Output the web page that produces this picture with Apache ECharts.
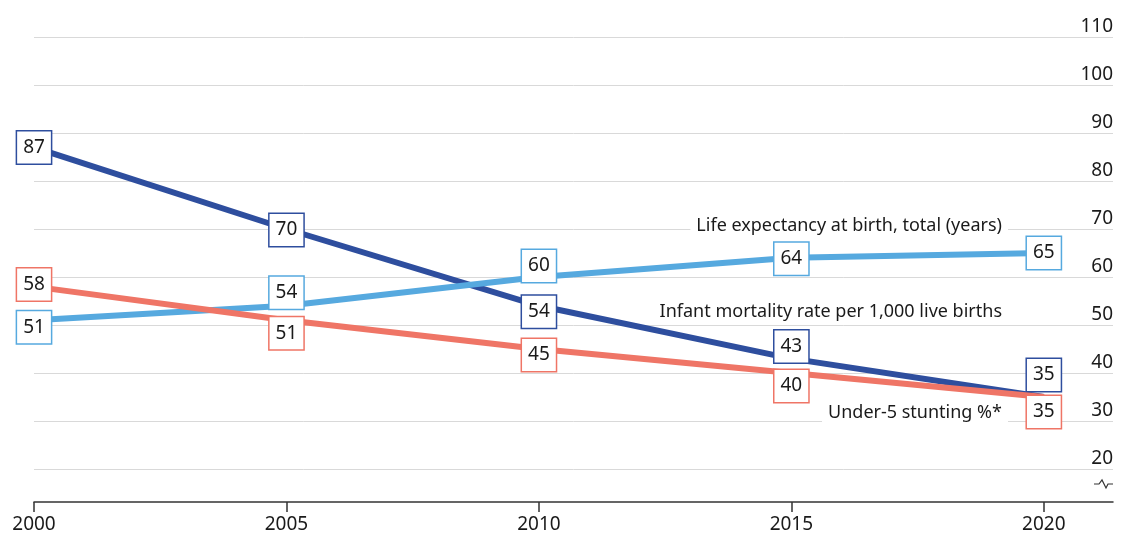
<!DOCTYPE html>
<html>
<head>
<meta charset="utf-8">
<script src="https://cdn.jsdelivr.net/npm/echarts@6/dist/echarts.min.js"></script>
<style>
  html, body { margin: 0; padding: 0; background: #fff; }
  #chart { width: 1131px; height: 535px; }
</style>
</head>
<body>
<div id="chart"></div>
<script>
// data
const years = [2000, 2005, 2010, 2015, 2020];
const infantMortality = [87, 70, 54, 43, 35];
const lifeExpectancy = [51, 54, 60, 64, 65];
const stunting = [58, 51, 45, 40, 35];
const yTicks = [20, 30, 40, 50, 60, 70, 80, 90, 100, 110];

// label nudges so the boxes do not collide (px)
const infantOffsets = [0, 1, 6, -12, -22];
const lifeOffsets = [7, -13, -11, 1, 0];
const stuntOffsets = [-2, 13, 6, 13, 15];

const FONT = '"Noto Sans", "Open Sans", sans-serif';
const INK = "#1a1a1a";
const DARK = "#2E4E9E";
const LIGHT = "#56A9DF";
const SALMON = "#EF7566";

function lineSeries(name, values, offsets, color, z) {
  return {
    name,
    type: "line",
    z,
    data: values.map((v, i) => ({
      value: [years[i], v],
      label: { offset: [0, offsets[i]] },
    })),
    lineStyle: { color, width: 6, cap: "butt" },
    itemStyle: { color: "rgba(0,0,0,0)" },
    symbol: "circle",
    symbolSize: 1,
    emphasis: { disabled: true },
    label: {
      show: true,
      position: "inside",
      formatter: (p) => p.value[1],
      color: INK,
      fontFamily: FONT,
      fontSize: 19,
      backgroundColor: "#fff",
      borderColor: color,
      borderWidth: 1.5,
      padding: [5, 6, 4, 6],
      lineHeight: 23,
    },
  };
}

function seriesNote(text, y) {
  return {
    type: "text",
    z: 1,
    x: 1008,
    y,
    style: {
      text,
      align: "right",
      verticalAlign: "middle",
      font: "18px " + FONT,
      fill: INK,
      backgroundColor: "#fff",
      padding: [2, 6],
    },
  };
}

const chart = echarts.init(document.getElementById("chart"), null, { renderer: "canvas" });

chart.setOption({
  animation: false,
  backgroundColor: "#fff",
  textStyle: { fontFamily: FONT },
  grid: { left: 34, right: 18, top: 37, bottom: 33, containLabel: false },
  xAxis: {
    type: "value",
    min: 2000,
    max: 2021.37,
    splitLine: { show: false },
    axisLine: { show: true, lineStyle: { color: "#333", width: 1.5 } },
    axisTick: {
      show: true,
      length: 10,
      customValues: years,
      lineStyle: { color: "#333", width: 1.5 },
    },
    axisLabel: {
      customValues: years,
      formatter: (v) => String(v),
      color: INK,
      fontSize: 19,
      fontFamily: FONT,
      margin: 13,
    },
  },
  yAxis: {
    type: "value",
    position: "right",
    min: 13.125,
    max: 110,
    splitNumber: 10,
    axisLine: { show: false },
    axisTick: { show: false },
    splitLine: { show: true, showMinLine: false, lineStyle: { color: "#d9d9d9", width: 1 } },
    axisLabel: {
      inside: true,
      showMinLabel: false,
      align: "right",
      verticalAlign: "bottom",
      margin: 0,
      padding: [0, 0, 1, 0],
      color: INK,
      fontSize: 19,
      fontFamily: FONT,
      formatter: (v) => (yTicks.includes(Math.round(v)) ? String(Math.round(v)) : ""),
    },
  },
  series: [
    lineSeries("Infant mortality rate per 1,000 live births", infantMortality, infantOffsets, DARK, 2),
    lineSeries("Life expectancy at birth, total (years)", lifeExpectancy, lifeOffsets, LIGHT, 3),
    lineSeries("Under-5 stunting %*", stunting, stuntOffsets, SALMON, 4),
  ],
  graphic: [
    seriesNote("Life expectancy at birth, total (years)", 226),
    seriesNote("Infant mortality rate per 1,000 live births", 312),
    seriesNote("Under-5 stunting %*", 413),
    {
      type: "polyline",
      z: 5,
      shape: {
        points: [[1094, 484], [1099, 484], [1102, 480], [1106, 488], [1108, 484], [1113, 484]],
      },
      style: { stroke: "#333", lineWidth: 1.2, fill: null },
    },
  ],
});
</script>
</body>
</html>
